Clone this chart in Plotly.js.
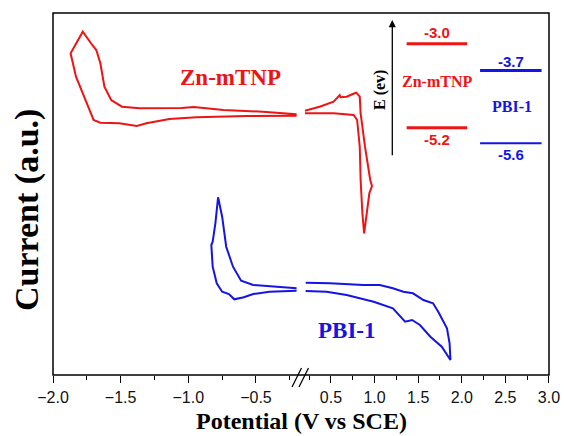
<!DOCTYPE html>
<html>
<head>
<meta charset="utf-8">
<script src="https://cdn.plot.ly/plotly-3.0.1.min.js"></script>
<style>html,body{margin:0;padding:0;background:#fff;}#chart{width:564px;height:436px;}</style>
</head>
<body>
<div id="chart"></div>
<script>
// ---- Data ----
// Zn-mTNP cyclic voltammogram, negative-potential segment
const znLeftX = [-0.20,-0.45,-0.74,-0.91,-0.96,-1.05,-1.19,-1.36,-1.49,-1.57,-1.62,-1.65,-1.68,-1.71,-1.78,-1.87,-1.83,-1.75,-1.70,-1.65,-1.51,-1.38,-1.31,-1.14,-0.94,-0.57,-0.20];
const znLeftY = [26.07,26.33,26.5,26.75,26.8,26.7,26.7,26.67,26.83,27.5,28.83,31.17,32.5,33.0,34.33,32.17,29.83,27.17,25.5,25.23,25.17,24.9,25.17,25.6,25.77,25.9,25.93];
// Zn-mTNP, positive-potential segment
const znRightX = [0.20,0.37,0.53,0.57,0.60,0.61,0.68,0.75,0.79,0.83,0.84,0.89,0.95,0.97,0.94,0.91,0.88,0.86,0.84,0.83,0.80,0.76,0.53,0.20];
const znRightY = [26.43,26.83,27.33,27.67,28.0,27.77,27.83,28.1,28.23,27.83,26.17,22.83,19.5,18.9,18.17,16.17,14.17,16.17,19.5,22.83,25.5,26.0,26.17,26.17];
// PBI-1, negative-potential segment
const pbiLeftX = [-0.20,-0.40,-0.52,-0.61,-0.67,-0.72,-0.75,-0.78,-0.80,-0.82,-0.83,-0.82,-0.79,-0.75,-0.70,-0.66,-0.59,-0.52,-0.40,-0.20];
const pbiLeftY = [8.67,8.83,9.0,9.43,10.83,12.83,15.83,17.77,15.17,13.33,13.0,10.83,9.17,8.33,8.1,7.57,7.77,8.1,8.33,8.43];
// PBI-1, positive-potential segment
const pbiRightX = [0.21,0.49,0.87,1.06,1.21,1.33,1.44,1.56,1.67,1.73,1.83,1.86,1.87,1.77,1.64,1.52,1.43,1.35,1.21,1.06,0.99,0.68,0.45,0.21];
const pbiRightY = [9.23,9.17,9.0,9.0,8.67,8.33,8.17,7.5,7.17,6.33,4.67,3.17,1.5,2.83,3.83,5.0,5.5,5.33,6.67,7.17,7.33,8.0,8.33,8.4];
// Energy levels (eV): [LUMO, HOMO]
const znLevels = [-3.0, -5.2];
const pbiLevels = [-3.7, -5.6];
const xTickLeft = [-2.0,-1.5,-1.0,-0.5];
const xTickRight = [0.5,1.0,1.5,2.0,2.5,3.0];

// ---- Styles / layout geometry ----
const RED = '#ee1414', BLUE = '#1414e6';
const SERIF = 'Liberation Serif, Times New Roman, serif';
const SANS = 'Liberation Sans, Arial, sans-serif';
const L = 53, R = 549, T = 13, B = 375;
const P = px => (px - L) / (R - L);      // pixel x -> paper
const Q = py => (B - py) / (B - T);      // pixel y -> paper

const traces = [
  {x: znLeftX, y: znLeftY, xaxis: 'x', yaxis: 'y', mode: 'lines', line: {color: RED, width: 2}, hoverinfo: 'skip'},
  {x: znRightX, y: znRightY, xaxis: 'x2', yaxis: 'y', mode: 'lines', line: {color: RED, width: 2}, hoverinfo: 'skip'},
  {x: pbiLeftX, y: pbiLeftY, xaxis: 'x', yaxis: 'y', mode: 'lines', line: {color: BLUE, width: 2}, hoverinfo: 'skip'},
  {x: pbiRightX, y: pbiRightY, xaxis: 'x2', yaxis: 'y', mode: 'lines', line: {color: BLUE, width: 2}, hoverinfo: 'skip'}
];
// energy level bars in inset
const znSpan = [0.713, 0.835], pbiSpan = [0.861, 0.985];
znLevels.forEach(e => traces.push({x: znSpan, y: [e, e], xaxis: 'x3', yaxis: 'y3', mode: 'lines', line: {color: RED, width: 3}, hoverinfo: 'skip'}));
pbiLevels.forEach((e, i) => traces.push({x: pbiSpan, y: [e, e], xaxis: 'x3', yaxis: 'y3', mode: 'lines', line: {color: BLUE, width: i === 0 ? 3 : 2}, hoverinfo: 'skip'}));

const axCommon = {
  ticks: 'outside', ticklen: 7, tickwidth: 1, tickcolor: '#000',
  showgrid: false, zeroline: false, showline: false,
  tickfont: {family: SANS, size: 16, color: '#111'},
  ticklabelstandoff: 1,
  tickformat: '.1f',
  minor: {ticks: 'outside', ticklen: 4, tickwidth: 1, tickcolor: '#000', dtick: 0.25, showgrid: false},
  fixedrange: true
};

function txt(px, py, text, size, color, family, extra) {
  return Object.assign({xref: 'paper', yref: 'paper', x: P(px), y: Q(py), text: text, showarrow: false,
    xanchor: 'center', yanchor: 'middle', font: {family: family, size: size, color: color, weight: 'bold'}}, extra || {});
}

const annotations = [
  txt(26.5, 210.5, 'Current (a.u.)', 34, '#000', SERIF, {textangle: -90}),
  txt(301.7, 420.5, 'Potential (V vs SCE)', 24, '#000', SERIF),
  txt(230, 77.3, 'Zn-mTNP', 23, RED, SERIF),
  txt(346.7, 330, 'PBI-1', 23, BLUE, SERIF),
  // inset
  {xref: 'paper', yref: 'paper', x: P(392.3), y: Q(20), ax: 0, ay: 136.7, axref: 'pixel', ayref: 'pixel', text: '',
   showarrow: true, arrowhead: 2, arrowsize: 1.1, arrowwidth: 1.3, arrowcolor: '#000'},
  txt(380, 90, 'E (ev)', 16, '#000', SERIF, {textangle: -90}),
  txt(436.7, 81.7, 'Zn-mTNP', 16, RED, SERIF),
  txt(511.7, 106.7, 'PBI-1', 16, BLUE, SERIF)
];
const znMid = (znSpan[0] + znSpan[1]) / 2, pbiMid = (pbiSpan[0] + pbiSpan[1]) / 2;
znLevels.forEach((e, i) => annotations.push({xref: 'x3', yref: 'y3', x: znMid, y: e, text: e.toFixed(1), showarrow: false,
  xanchor: 'center', yanchor: 'middle', yshift: i === 0 ? 11 : -12, font: {family: SANS, size: 15, color: RED, weight: 'bold'}}));
pbiLevels.forEach((e, i) => annotations.push({xref: 'x3', yref: 'y3', x: pbiMid, y: e, text: e.toFixed(1), showarrow: false,
  xanchor: 'center', yanchor: 'middle', yshift: i === 0 ? 9 : -11, font: {family: SANS, size: 15, color: BLUE, weight: 'bold'}}));

const layout = {
  width: 564, height: 436,
  margin: {l: L, r: 564 - R, t: T, b: 436 - B, pad: 0},
  paper_bgcolor: '#fff', plot_bgcolor: 'rgba(0,0,0,0)',
  showlegend: false,
  xaxis: Object.assign({}, axCommon, {domain: [0, 0.4919], range: [-2.0, -0.197], anchor: 'y', tickvals: xTickLeft}),
  xaxis2: Object.assign({}, axCommon, {domain: [0.5077, 1], range: [0.2, 3.0], anchor: 'y', tickvals: xTickRight}),
  yaxis: {domain: [0, 1], range: [0, 36.2], showticklabels: false, ticks: '', showgrid: false, zeroline: false, showline: false, fixedrange: true},
  xaxis3: {domain: [0, 1], range: [0, 1], anchor: 'y3', visible: false, fixedrange: true},
  yaxis3: {domain: [0, 1], range: [-11.663, -2.197], anchor: 'x3', visible: false, fixedrange: true},
  shapes: [
    {type: 'rect', xref: 'paper', yref: 'paper', x0: 0, x1: 1, y0: 0, y1: 1, line: {color: '#000', width: 1.5}, layer: 'below'},
    {type: 'line', xref: 'paper', yref: 'paper', x0: P(292), y0: Q(387), x1: P(301.5), y1: Q(368), line: {color: '#000', width: 1.2}},
    {type: 'line', xref: 'paper', yref: 'paper', x0: P(299), y0: Q(387), x1: P(308.5), y1: Q(368), line: {color: '#000', width: 1.2}}
  ],
  annotations: annotations
};

Plotly.newPlot('chart', traces, layout, {staticPlot: true, displayModeBar: false});
</script>
</body>
</html>
